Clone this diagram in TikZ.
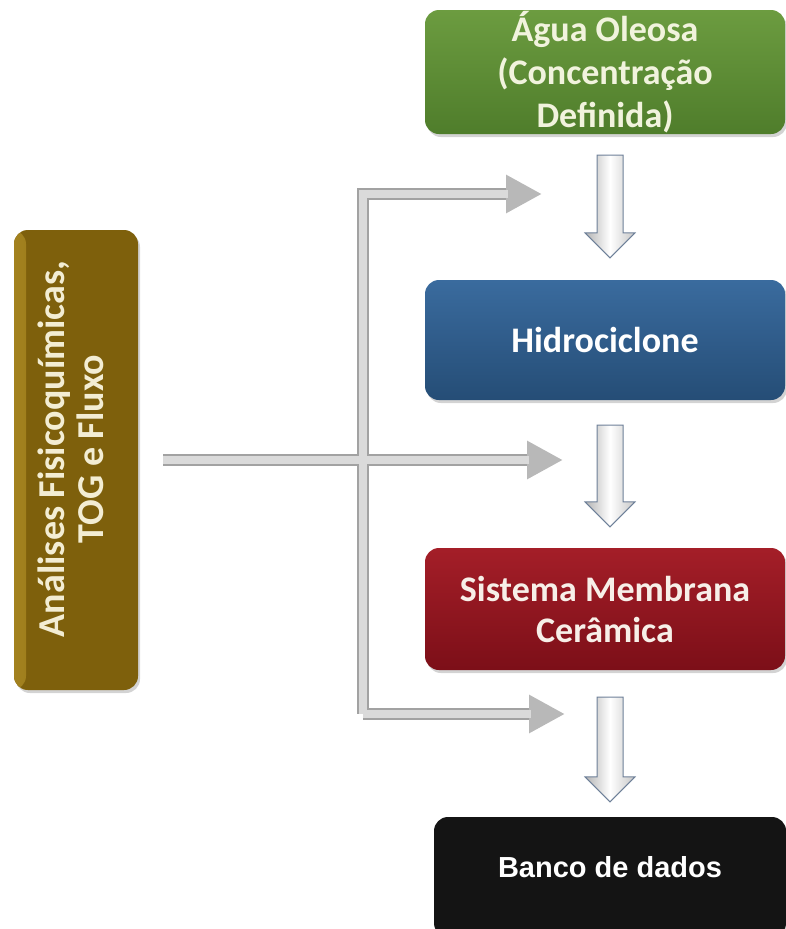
\documentclass[tikz,border=0pt]{standalone}
\usepackage{fontspec}
\usepackage{graphicx}
\setmainfont{Carlito}
\newfontfamily\arialfont{Liberation Sans}
\usetikzlibrary{calc,shadows,arrows.meta}

\definecolor{pipedark}{HTML}{A2A2A2}
\definecolor{pipelight}{HTML}{DADADA}
\definecolor{pipehead}{HTML}{B8B8B8}
\definecolor{arrowedge}{HTML}{6E8099}
\definecolor{greentop}{HTML}{6C9C40}
\definecolor{greenbot}{HTML}{4F7D2B}
\definecolor{greentext}{HTML}{F1F3DD}
\definecolor{bluetop}{HTML}{3A6B9E}
\definecolor{bluebot}{HTML}{254D76}
\definecolor{redtop}{HTML}{A41E28}
\definecolor{redbot}{HTML}{7C0F18}
\definecolor{redtext}{HTML}{F7EFE8}
\definecolor{blackfill}{HTML}{141414}
\definecolor{olivelight}{HTML}{A3821F}
\definecolor{olivebase}{HTML}{7E600C}
\definecolor{olivetext}{HTML}{F3EDD3}

\tikzset{
  stagebox/.style={rounded corners=14pt, minimum width=360pt, inner sep=0pt,
    align=center, font=\bfseries,
    drop shadow={opacity=0.35, shadow xshift=2pt, shadow yshift=-3pt}},
  pipe/.style={line width=12pt, draw=pipedark, line join=miter},
  pipeshine/.style={line width=8pt, draw=pipelight, line join=miter},
  pipetip/.style={-{Triangle[length=36pt,width=36pt,color=pipehead]}},
  blockarrow/.style={draw=arrowedge, line width=1pt, line join=miter,
    left color=gray!60, right color=gray!45, middle color=white}
}

% block arrow between two stacked boxes
\newcommand\blockdown[4]{%
  \shadedraw[blockarrow] let \p1=($(#1.south)+(5,-#3)$), \p2=($(#2.north)+(5,#4)$) in
    (\x1-13pt,\y1) -- (\x1+13pt,\y1) -- (\x1+13pt,\y2+25pt) -- (\x1+25pt,\y2+25pt)
    -- (\x1,\y2) -- (\x1-25pt,\y2+25pt) -- (\x1-13pt,\y2+25pt) -- cycle;}

\begin{document}
\begin{tikzpicture}[x=1pt,y=1pt]
\useasboundingbox (0,0) rectangle (786,-929);

% process stages
\node[stagebox, minimum height=124pt, top color=greentop, bottom color=greenbot,
      text=greentext, font=\bfseries\fontsize{36}{43}\selectfont]
  (agua) at (605,-72) {Água Oleosa\\(Concentração\\Definida)};
\node[stagebox, minimum height=120pt, top color=bluetop, bottom color=bluebot,
      text=white, font=\bfseries\fontsize{36}{43}\selectfont]
  (hidro) at (605,-340) {Hidrociclone};
\node[stagebox, minimum height=122pt, top color=redtop, bottom color=redbot,
      text=redtext, font=\bfseries\fontsize{36}{41}\selectfont]
  (membrana) at (605,-609) {Sistema Membrana\\Cerâmica};
\node[stagebox, minimum width=352pt, minimum height=120pt, fill=blackfill,
      text=white, font=\arialfont\bfseries\fontsize{29}{34}\selectfont]
  (banco) at (610,-877) {\raisebox{20pt}{Banco de dados}};

% side analyses column, with a soft gold rim on its left edge
\node[rounded corners=14pt, minimum width=124pt, minimum height=460pt, inner sep=0pt,
      fill=olivebase, text=olivetext,
      drop shadow={opacity=0.35, shadow xshift=2pt, shadow yshift=-3pt},
      path picture={\shade[left color=olivelight, right color=olivebase]
        (path picture bounding box.south west) rectangle
        ($(path picture bounding box.north west)+(12pt,0)$);},
      font=\bfseries\fontsize{38}{39}\selectfont]
  (analises) at (76,-460)
  {\rotatebox{90}{\hspace{22pt}\begin{tabular}{@{}c@{}}Análises Fisicoquímicas,\\TOG e Fluxo\end{tabular}}};

% sampling lines
\coordinate (tipA) at (542,-194);
\coordinate (tipB) at (563,-460);
\coordinate (tipC) at (565,-714);
\coordinate (busC) at (363,-714);
\coordinate (feed) at ($(analises.east)+(25,0)$);

\draw[pipe, {Triangle[length=36pt,width=36pt,color=pipehead]}-] (tipA) -| (busC);
\draw[pipe, pipetip] (busC) -- (tipC);
\draw[pipe, pipetip] (feed) -- (tipB);
\draw[pipeshine, shorten <=34pt] (tipA) -| (busC);
\draw[pipeshine, shorten >=34pt] (busC) -- (tipC);
\draw[pipeshine, shorten >=34pt] (feed) -- (tipB);

% flow arrows between stages
\blockdown{agua}{hidro}{21}{22}
\blockdown{hidro}{membrana}{25}{21}
\blockdown{membrana}{banco}{27}{15}
\end{tikzpicture}
\end{document}
